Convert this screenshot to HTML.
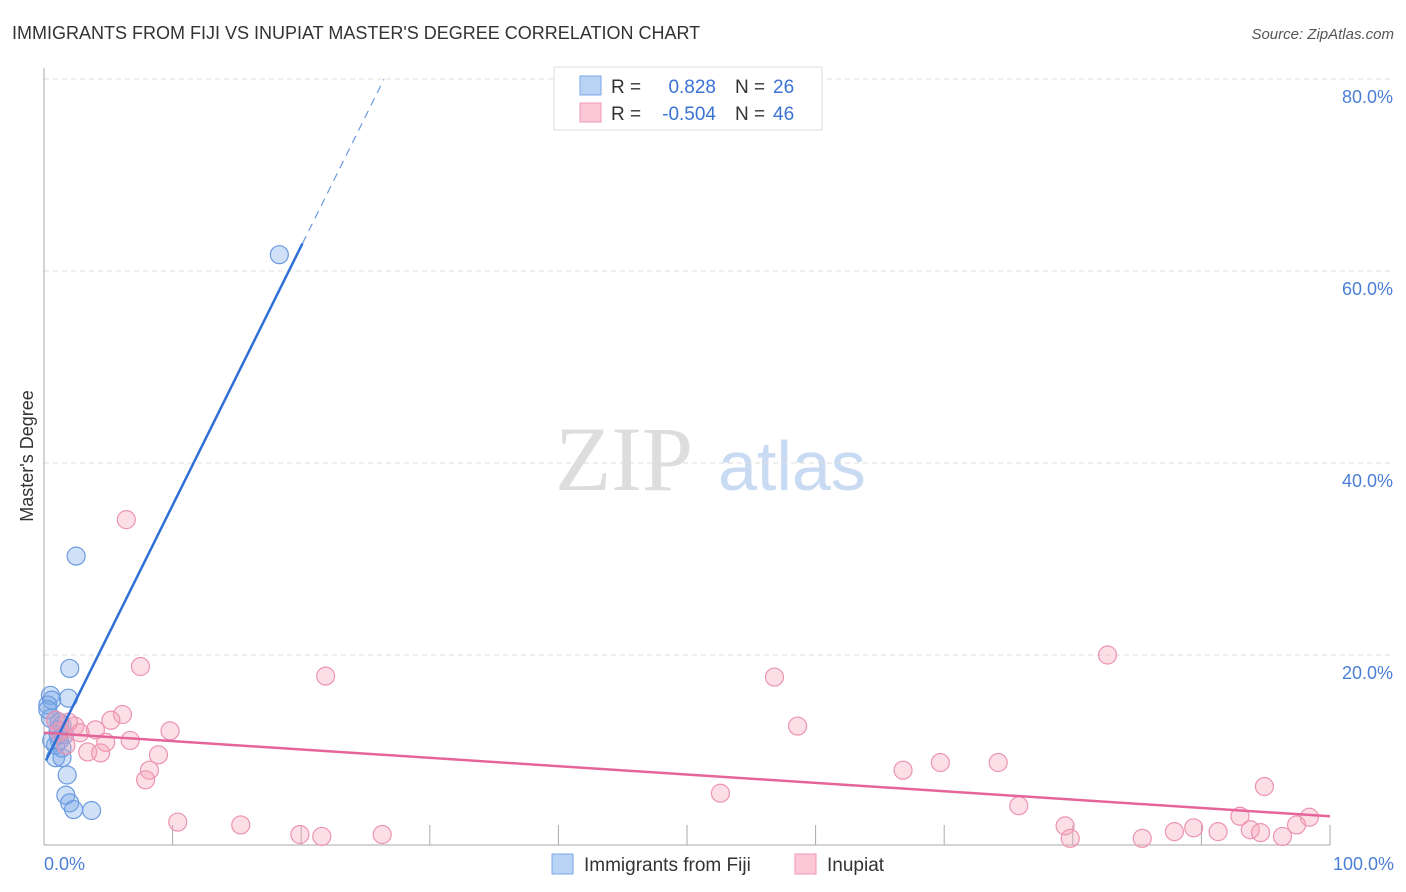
<!DOCTYPE html>
<html><head><meta charset="utf-8"><style>
body{margin:0;background:#fff;font-family:"Liberation Sans",sans-serif;}
svg{display:block}
</style></head><body>
<svg id="chart" width="1406" height="892">
<text x="12" y="39" font-size="18" fill="#333">IMMIGRANTS FROM FIJI VS INUPIAT MASTER'S DEGREE CORRELATION CHART</text>
<text x="1394" y="39" font-size="15" fill="#555" font-style="italic" text-anchor="end">Source: ZipAtlas.com</text>
<text x="555" y="490" font-size="92" fill="#ddd" font-family="Liberation Serif,serif">ZIP</text>
<text x="718" y="490" font-size="70" fill="#c9daf3">atlas</text>
<text transform="translate(33,456) rotate(-90)" font-size="18" fill="#333" text-anchor="middle">Master's Degree</text>
<g id="grid"></g><g id="marks"></g>
<g>
<rect x="554" y="67" width="268" height="63" fill="#fff" stroke="#ddd"/>
<rect x="580" y="76" width="21" height="19" fill="#b9d3f5" stroke="#7aa7e8"/>
<rect x="580" y="103" width="21" height="19" fill="#fcc8d7" stroke="#ef9ab5"/>
<text x="611" y="93" font-size="19" fill="#333">R =</text>
<text x="716" y="93" font-size="19" fill="#3b73d4" text-anchor="end">0.828</text>
<text x="735" y="93" font-size="19" fill="#333">N =</text>
<text x="773" y="93" font-size="19" fill="#3b73d4">26</text>
<text x="611" y="120" font-size="19" fill="#333">R =</text>
<text x="716" y="120" font-size="19" fill="#3b73d4" text-anchor="end">-0.504</text>
<text x="735" y="120" font-size="19" fill="#333">N =</text>
<text x="773" y="120" font-size="19" fill="#3b73d4">46</text>
</g>
<g>
<rect x="552" y="854" width="21" height="20" fill="#b9d3f5" stroke="#7aa7e8"/>
<text x="584" y="871" font-size="19" fill="#333">Immigrants from Fiji</text>
<rect x="795" y="854" width="21" height="20" fill="#fcc8d7" stroke="#ef9ab5"/>
<text x="827" y="871" font-size="19" fill="#333">Inupiat</text>
</g>
</svg>
<script>
const yTicks=[20,40,60,80];
const yTickLabels=["20.0%","40.0%","60.0%","80.0%"];
const xTickLabels=["0.0%","100.0%"];
const fijiX=[18.3,2.5,2.0,1.9,0.5,0.6,0.3,0.5,0.9,1.2,1.4,1.1,1.6,1.2,0.9,1.4,0.9,1.4,1.8,1.7,2.0,2.3,3.7,0.3,0.6,1.1];
const fijiY=[61.7,30.3,18.6,15.5,15.8,15.3,14.8,13.4,13.2,13.0,12.7,12.2,11.7,11.1,10.6,10.3,9.3,9.3,7.5,5.4,4.6,3.9,3.8,14.3,11.1,11.7];
const inuX=[6.4,7.5,21.9,56.8,82.7,6.1,5.2,4.0,9.8,6.7,4.8,3.4,4.4,8.9,8.2,7.9,58.6,66.8,69.7,74.2,52.6,75.8,94.9,10.4,15.3,19.9,21.6,26.3,79.4,79.8,85.4,87.9,89.4,91.3,93.0,93.8,94.6,96.3,97.4,98.4,2.4,1.9,1.2,0.9,1.7,2.8];
const inuY=[34.1,18.8,17.8,17.7,20.0,13.8,13.2,12.2,12.1,11.1,10.9,9.9,9.8,9.6,8.0,7.0,12.6,8.0,8.8,8.8,5.6,4.3,6.3,2.6,2.3,1.3,1.1,1.3,2.2,0.9,0.9,1.6,2.0,1.6,3.2,1.8,1.5,1.1,2.3,3.1,12.6,13.0,12.0,13.2,10.6,11.9];
const fijiTrend=[8.6,2.7]; // intercept, slope
const inuTrend=[11.9,-0.087];
const X=v=>44+v*12.86, Y=v=>847-v*9.6;
const NS="http://www.w3.org/2000/svg";
function mk(p,t,a){const e=document.createElementNS(NS,t);for(const k in a)e.setAttribute(k,a[k]);p.appendChild(e);return e;}
const grid=document.getElementById('grid'),marks=document.getElementById('marks');
yTicks.forEach((t,i)=>{
 const l=mk(grid,'line',{x1:44,x2:1392,y1:Y(t),y2:Y(t),stroke:'#ddd','stroke-dasharray':'5,4'});
 
 
 const tx=mk(grid,'text',{x:1393,y:Y(t)+24,'font-size':18,fill:'#4a7fd6','text-anchor':'end'});tx.textContent=yTickLabels[i];
 
 
});
const ax=mk(grid,'line',{x1:44,x2:44,y1:68,y2:845,stroke:'#aaa'});


const bx=mk(grid,'line',{x1:44,x2:1330,y1:845,y2:845,stroke:'#aaa'});


for(let i=1;i<=10;i++){const t=mk(grid,'line',{x1:X(i*10),x2:X(i*10),y1:825,y2:845,stroke:'#aaa'});
 
 }
[[0,'start',44],[100,'end',1394]].forEach((d,i)=>{const t=mk(grid,'text',{x:d[2],y:870,'font-size':18,fill:'#4a7fd6','text-anchor':d[1]});t.textContent=xTickLabels[i];
 
 });
fijiX.forEach((x,i)=>{const c=mk(marks,'circle',{cx:X(x),cy:Y(fijiY[i]),r:9,fill:'rgba(120,165,230,0.35)',stroke:'#6b9be0','stroke-width':1.2});
 
 });
inuX.forEach((x,i)=>{const c=mk(marks,'circle',{cx:X(x),cy:Y(inuY[i]),r:9,fill:'rgba(245,160,185,0.35)',stroke:'#ec94b0','stroke-width':1.2});
 
 });
const xe=20.1, xd=(80-fijiTrend[0])/fijiTrend[1];
const f1=mk(marks,'line',{x1:X(0.15),y1:Y(fijiTrend[0]+fijiTrend[1]*0.15),x2:X(xe),y2:Y(fijiTrend[0]+fijiTrend[1]*xe),stroke:'#2f6fd6','stroke-width':2.5});


const f2=mk(marks,'line',{x1:X(xe),y1:Y(fijiTrend[0]+fijiTrend[1]*xe),x2:X(xd),y2:Y(80),stroke:'#6b9be0','stroke-width':1.2,'stroke-dasharray':'8,6'});


const p1=mk(marks,'line',{x1:X(0),y1:Y(inuTrend[0]),x2:X(100),y2:Y(inuTrend[0]+inuTrend[1]*100),stroke:'#e5659a','stroke-width':2.5});


</script>
</body></html>
